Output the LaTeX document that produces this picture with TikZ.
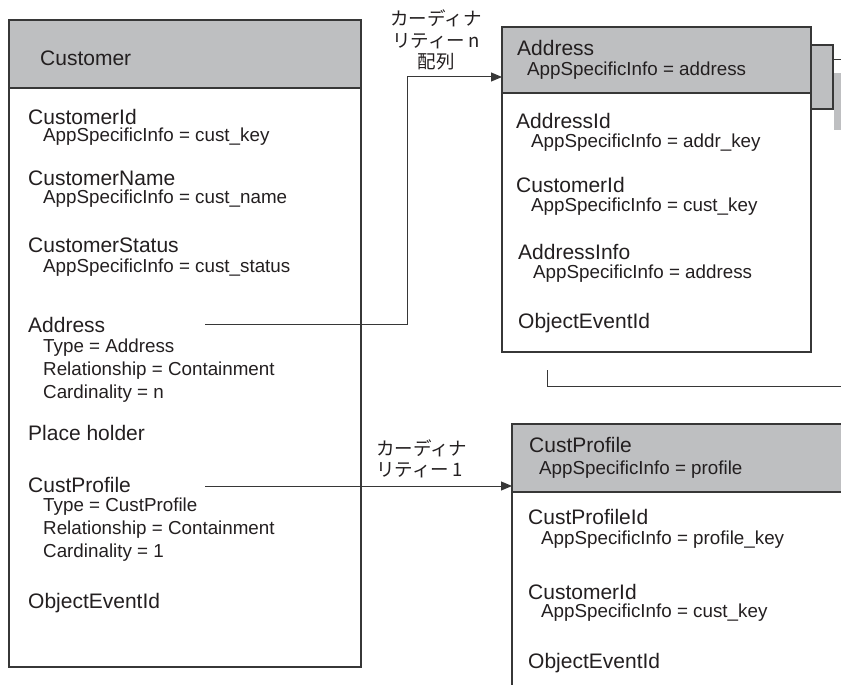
\documentclass[tikz,border=0pt]{standalone}
\usepackage{fontspec}
\setmainfont{Liberation Sans}
\newfontfamily\jpfont{Noto Sans CJK JP}
\usetikzlibrary{arrows.meta}
\definecolor{hdrgray}{RGB}{190,191,193}
\definecolor{ink}{RGB}{35,31,32}
\definecolor{edge}{RGB}{55,55,55}
\tikzset{
  box/.style={draw=edge, line width=1.3pt, fill=white, anchor=north west, inner sep=0pt, outer sep=0pt},
  hdr/.style={draw=edge, line width=1.3pt, fill=hdrgray, anchor=north west, inner sep=0pt, outer sep=0pt},
  fld/.style={anchor=west, inner sep=0pt, text=ink, font=\fontsize{21}{25}\selectfont},
  sub/.style={anchor=west, inner sep=0pt, text=ink, font=\fontsize{18.8}{22}\selectfont},
  conn/.style={draw=edge, line width=1pt},
  tip/.style={-{Triangle[length=11pt,width=9pt]}},
  jplbl/.style={inner sep=0pt, text=ink, font=\jpfont\fontsize{18.5}{21.5}\selectfont},
}
\begin{document}
\begin{tikzpicture}[x=1pt,y=-1pt]
\useasboundingbox (0,0) rectangle (841,685);
\clip (0,0) rectangle (841,685);

% ---- Customer entity ----
\node[box, minimum width=352pt, minimum height=647pt] (cust) at (9,20) {};
\node[hdr, minimum width=352pt, minimum height=68pt] (custhd) at (9,20) {};
\node[fld] (custname) at (40,58) {Customer};
\node[fld] (cid) at (28,117) {CustomerId};
\node[sub] (cidi) at (43,137) {AppSpecificInfo = cust\_key};
\node[fld] (cnm) at (28,178) {CustomerName};
\node[sub] (cnmi) at (43,199) {AppSpecificInfo = cust\_name};
\node[fld] (cst) at (28,245) {CustomerStatus};
\node[sub] (csti) at (43,268) {AppSpecificInfo = cust\_status};
\node[fld] (cad) at (28,325) {Address};
\node[sub] (cad1) at (43,348) {Type = Address};
\node[sub] (cad2) at (43,371) {Relationship = Containment};
\node[sub] (cad3) at (43,394) {Cardinality = n};
\node[fld] (cph) at (28,433) {Place holder};
\node[fld] (ccp) at (28,485) {CustProfile};
\node[sub] (ccp1) at (43,507) {Type = CustProfile};
\node[sub] (ccp2) at (43,530) {Relationship = Containment};
\node[sub] (ccp3) at (43,553) {Cardinality = 1};
\node[fld] (coe) at (28,603) {ObjectEventId};

% ---- Address entity (with stacked copy behind) ----
\node[hdr, minimum width=43pt, minimum height=64pt] (addrback) at (790,45) {};
\fill[hdrgray] (834,73) rectangle (841,130);
\coordinate (stackL) at (833,60);
\coordinate (stackR) at (841,60);
\draw[conn] (stackL) -- (stackR);
\node[box, minimum width=309pt, minimum height=325pt] (addr) at (502,27) {};
\node[hdr, minimum width=309pt, minimum height=66pt] (addrhd) at (502,27) {};
\node[fld] (aname) at (517,48) {Address};
\node[sub] (anamei) at (527,71) {AppSpecificInfo = address};
\node[fld] (aid) at (516,121) {AddressId};
\node[sub] (aidi) at (531,143) {AppSpecificInfo = addr\_key};
\node[fld] (acid) at (516,185) {CustomerId};
\node[sub] (acidi) at (531,207) {AppSpecificInfo = cust\_key};
\node[fld] (ainf) at (518,252) {AddressInfo};
\node[sub] (ainfi) at (533,274) {AppSpecificInfo = address};
\node[fld] (aoe) at (518,323) {ObjectEventId};

% partial connector leaving the address stack
\coordinate (legA) at (547,370);
\coordinate (legB) at (841,386);
\draw[conn] (legA) |- (legB);

% ---- CustProfile entity ----
\node[box, minimum width=360pt, minimum height=300pt] (prof) at (512,424) {};
\node[hdr, minimum width=360pt, minimum height=68pt] (profhd) at (512,424) {};
\node[fld] (pname) at (529,445) {CustProfile};
\node[sub] (pnamei) at (539,470) {AppSpecificInfo = profile};
\node[fld] (pid) at (528,517) {CustProfileId};
\node[sub] (pidi) at (541,540) {AppSpecificInfo = profile\_key};
\node[fld] (pcid) at (528,592) {CustomerId};
\node[sub] (pcidi) at (541,613) {AppSpecificInfo = cust\_key};
\node[fld] (poe) at (528,663) {ObjectEventId};

% ---- relationships ----
\coordinate (addrOut) at (205,324);
\coordinate (addrBend) at (407,324);
\coordinate (addrIn) at (502,77);
\draw[conn, tip] (addrOut) -- (addrBend) |- (addrIn);
\node[jplbl, align=center] (cardn) at (436,40) {カーディナ\\リティー\,n\\配列};

\coordinate (profOut) at (205,486);
\coordinate (profIn) at (512,486);
\draw[conn, tip] (profOut) -- (profIn);
\node[jplbl, align=left, anchor=west] (card1) at (376,459) {カーディナ\\リティー\,1};
\end{tikzpicture}
\end{document}
